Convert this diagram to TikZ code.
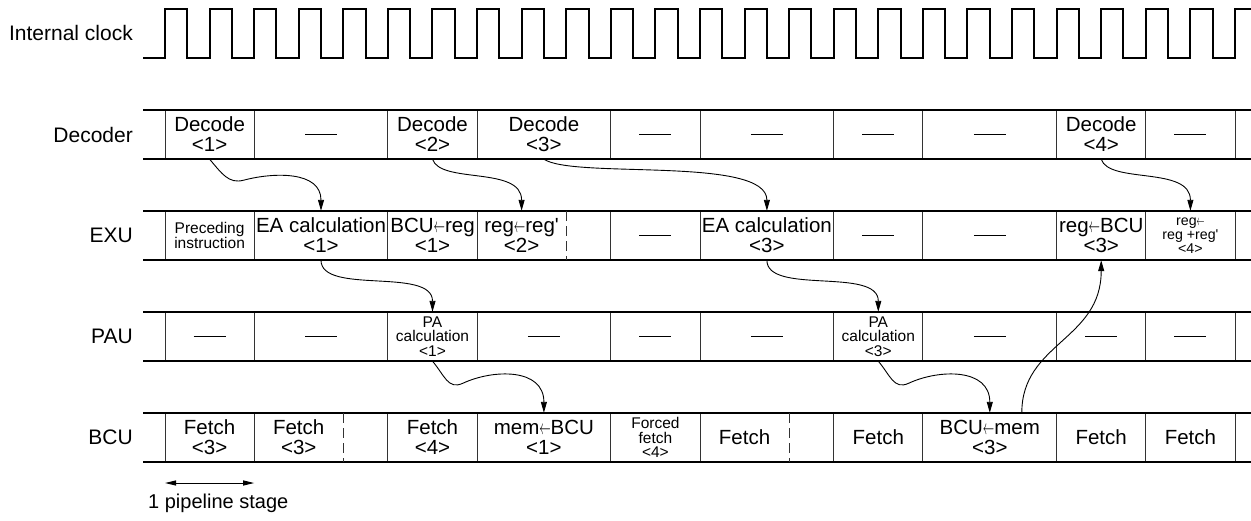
\documentclass[tikz,border=0pt]{standalone}
\usepackage{fontspec}
\setmainfont{Liberation Sans}
\usepackage{graphicx}
\usetikzlibrary{arrows.meta}

\newcommand\cellfont{\fontsize{20.5}{20}\selectfont}
\newcommand\scellfont{\fontsize{15.5}{14.3}\selectfont}
\newcommand\tcellfont{\fontsize{14.2}{14}\selectfont}
\newcommand\lftarr{\scalebox{0.55}[1]{$\leftarrow$}}
\newcommand\idle{\rule{32pt}{1.2pt}}

\begin{document}
\begin{tikzpicture}[
  x=1pt, y=-1pt,
  cell/.style={inner sep=0pt, minimum height=49pt, align=center, font=\cellfont},
  scell/.style={cell, font=\scellfont},
  tcell/.style={cell, font=\tcellfont},
  lbl/.style={anchor=east, inner sep=0pt, font=\fontsize{21}{21}\selectfont},
  rowline/.style={line width=2.5pt},
  sep/.style={line width=1pt, black!80},
  half/.style={sep, dash pattern=on 10pt off 5pt},
  clk/.style={line width=2pt, line join=miter},
  flow/.style={line width=0.9pt, -{Triangle[length=11pt,width=6pt]}},
  dim/.style={line width=1pt, {Triangle[length=11pt,width=5pt]}-{Triangle[length=11pt,width=5pt]}}
]
\useasboundingbox (0,0) rectangle (1251,520);

% clock
\node[lbl] (clk) at (133,33) {Internal clock};
\draw[clk] (143,58) -- (165,58)
  foreach \k in {1,...,24} { -- ++(0,-49) -- ++(22.29,0) -- ++(0,49) -- ++(22.29,0) }
  -- ++(0,-49) -- (1251,9);

% rows
\foreach \y in {134.5,235.5,336.5,437.5}{
  \foreach \x in {165,254.2,387.9,477.1,610.8,700,833.7,922.9,1056.6,1145.8,1235}
    \draw[sep] (\x,\y-24.5) -- (\x,\y+24.5);
  \draw[rowline] (143,\y-24.5) -- (1251,\y-24.5) (143,\y+24.5) -- (1251,\y+24.5);
}
\draw[half] (566.2,211) -- (566.2,260);
\draw[half] (343.3,413) -- (343.3,462);
\draw[half] (789.2,413) -- (789.2,462);

\node[lbl] (decl) at (133,134.5) {Decoder};
\node[lbl] (exul) at (133,235.5) {EXU};
\node[lbl] (paul) at (133,336.5) {PAU};
\node[lbl] (bcul) at (133,437.5) {BCU};

% decoder
\node[cell] (d1) at (209.6,134.5) {Decode\\<1>};
\node[cell] (d2) at (321,134.5) {\idle};
\node[cell] (d3) at (432.5,134.5) {Decode\\<2>};
\node[cell] (d4) at (543.9,134.5) {Decode\\<3>};
\node[cell] (d5) at (655.4,134.5) {\idle};
\node[cell] (d6) at (766.9,134.5) {\idle};
\node[cell] (d7) at (878.3,134.5) {\idle};
\node[cell] (d8) at (989.8,134.5) {\idle};
\node[cell] (d9) at (1101.2,134.5) {Decode\\<4>};
\node[cell] (d10) at (1190.4,134.5) {\idle};

% EXU
\node[scell] (e1) at (209.6,235.5) {Preceding\\instruction};
\node[cell] (e2) at (321,235.5) {EA calculation\\<1>};
\node[cell] (e3) at (432.5,235.5) {BCU\lftarr reg\\<1>};
\node[cell] (e4) at (521.6,235.5) {reg\lftarr reg\textquotesingle\\<2>};
\node[cell] (e5) at (655.4,235.5) {\idle};
\node[cell] (e6) at (766.9,235.5) {EA calculation\\<3>};
\node[cell] (e7) at (878.3,235.5) {\idle};
\node[cell] (e8) at (989.8,235.5) {\idle};
\node[cell] (e9) at (1101.2,235.5) {reg\lftarr BCU\\<3>};
\node[tcell] (e10) at (1190.4,235.5) {reg\lftarr\\reg +reg\textquotesingle\\<4>};

% PAU
\node[cell] (p1) at (209.6,336.5) {\idle};
\node[cell] (p2) at (321,336.5) {\idle};
\node[scell] (p3) at (432.5,336.5) {PA\\calculation\\<1>};
\node[cell] (p4) at (543.9,336.5) {\idle};
\node[cell] (p5) at (655.4,336.5) {\idle};
\node[cell] (p6) at (766.9,336.5) {\idle};
\node[scell] (p7) at (878.3,336.5) {PA\\calculation\\<3>};
\node[cell] (p8) at (989.8,336.5) {\idle};
\node[cell] (p9) at (1101.2,336.5) {\idle};
\node[cell] (p10) at (1190.4,336.5) {\idle};

% BCU
\node[cell] (b1) at (209.6,437.5) {Fetch\\<3>};
\node[cell] (b2) at (298.7,437.5) {Fetch\\<3>};
\node[cell] (b3) at (432.5,437.5) {Fetch\\<4>};
\node[cell] (b4) at (543.9,437.5) {mem\lftarr BCU\\<1>};
\node[scell] (b5) at (655.4,437.5) {Forced\\fetch\\<4>};
\node[cell] (b6) at (744.6,437.5) {Fetch};
\node[cell] (b7) at (878.3,437.5) {Fetch};
\node[cell] (b8) at (989.8,437.5) {BCU\lftarr mem\\<3>};
\node[cell] (b9) at (1101.2,437.5) {Fetch};
\node[cell] (b10) at (1190.4,437.5) {Fetch};

% transfers
\draw[flow] (d1.south) .. controls +(12,14) and +(-15,4) .. ++(34,21)
  .. controls +(30,-8) and +(0,-40) .. (e2.north);
\draw[flow] (d3.south) .. controls +(8,25) and +(0,-45) .. (e4.north);
\draw[flow] (d4.south) .. controls +(30,20) and +(0,-55) .. (e6.north);
\draw[flow] (d9.south) .. controls +(8,25) and +(0,-45) .. (e10.north);
\draw[flow] (e2.south) .. controls +(0,35) and +(0,-45) .. (p3.north);
\draw[flow] (e6.south) .. controls +(0,35) and +(0,-45) .. (p7.north);
\draw[flow] (p3.south) .. controls +(12,14) and +(-15,7) .. ++(30.5,22)
  .. controls +(30,-14) and +(0,-45) .. (b4.north);
\draw[flow] (p7.south) .. controls +(12,14) and +(-15,7) .. ++(30.5,22)
  .. controls +(30,-14) and +(0,-45) .. (b8.north);
\draw[flow] ([xshift=32pt]b8.north) .. controls +(0,-70) and +(0,80) .. (e9.south);

% scale
\coordinate (stgL) at (165,483);
\coordinate (stgR) at (254.2,483);
\draw[dim] (stgL) -- (stgR);
\node[anchor=base west, inner sep=0pt, font=\fontsize{20}{20}\selectfont] (stg) at (148,508) {1 pipeline stage};
\end{tikzpicture}
\end{document}
